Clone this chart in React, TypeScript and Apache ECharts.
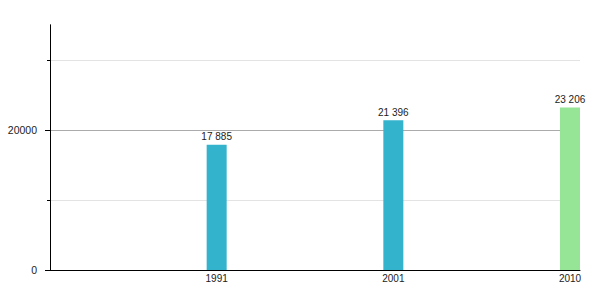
import React, { useEffect, useRef } from "react";
import * as echarts from "echarts";

const years = ["1991", "2001", "2010"];
const population = [17885, 21396, 23206];
const barColors = ["#34b3cc", "#34b3cc", "#96e496"];
const yMinorTicks = [10000, 30000];
const yMajorTicks = [0, 20000];

const fmt = (v: number) => String(v).replace(/\B(?=(\d{3})+(?!\d))/g, " ");

export default function App() {
  const ref = useRef<HTMLDivElement>(null);
  useEffect(() => {
    if (!ref.current) return;
    const chart = echarts.init(ref.current, null, { renderer: "svg" });
    const font = "'Liberation Sans', Arial, sans-serif";
    chart.setOption({
      animation: false,
      textStyle: { fontFamily: font },
      grid: { left: 50, right: 20, top: 25, bottom: 30, containLabel: false },
      xAxis: {
        type: "category",
        boundaryGap: false,
        data: ["", ...years],
        axisLine: { lineStyle: { color: "#000", width: 1 } },
        axisTick: { show: false },
        axisLabel: {
          color: "#222",
          fontSize: 10,
          fontFamily: font,
          margin: 3,
          padding: [0, 20, 0, 0],
        },
        splitLine: { show: false },
      },
      yAxis: [
        {
          type: "value",
          min: 0,
          max: 35000,
          interval: 10000,
          axisLine: { show: true, lineStyle: { color: "#000", width: 1 } },
          axisTick: {
            show: true,
            length: 3,
            lineStyle: { color: "#000" },
            customValues: yMinorTicks,
          },
          axisLabel: { show: false },
          splitLine: {
            show: true,
            showMinLine: true,
            showMaxLine: true,
            lineStyle: { color: "#e3e3e3", width: 1 },
          },
        },
        {
          type: "value",
          position: "left",
          min: 0,
          max: 35000,
          interval: 10000,
          axisLine: { show: true, lineStyle: { color: "#000", width: 1 } },
          axisTick: {
            show: true,
            length: 5,
            lineStyle: { color: "#000" },
            customValues: yMajorTicks,
          },
          axisLabel: {
            color: "#222",
            fontSize: 10.5,
            fontFamily: font,
            margin: 13,
            customValues: yMajorTicks,
            formatter: (v: number) => String(v),
          },
          splitLine: {
            show: true,
            showMinLine: false,
            showMaxLine: true,
            lineStyle: { color: "#ababab", width: 1 },
          },
        },
      ],
      series: [
        {
          type: "bar",
          yAxisIndex: 0,
          barWidth: 20,
          barGap: "0%",
          data: [
            "-",
            ...population.map((v, i) => ({ value: v, itemStyle: { color: barColors[i] } })),
          ],
          label: {
            show: true,
            position: "top",
            distance: 3,
            color: "#222",
            fontSize: 10,
            fontFamily: font,
            formatter: (p: any) => fmt(p.value),
          },
        },
        {
          type: "bar",
          yAxisIndex: 0,
          barWidth: 20,
          silent: true,
          itemStyle: { color: "rgba(0,0,0,0)" },
          data: ["-", ...population.map(() => 0)],
        },
      ],
    });
    return () => chart.dispose();
  }, []);
  return (
    <div
      ref={ref}
      style={{ position: "absolute", left: 0, top: 0, width: 600, height: 300, background: "#fff" }}
    />
  );
}
